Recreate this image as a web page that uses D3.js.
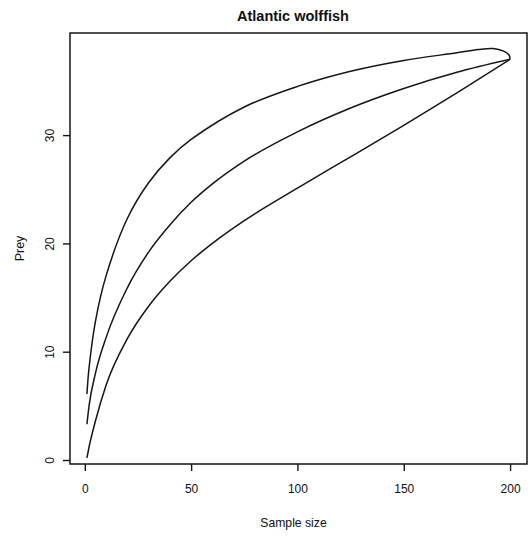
<!DOCTYPE html>
<html>
<head>
<meta charset="utf-8">
<script src="https://cdn.jsdelivr.net/npm/d3@7"></script>
<style>
  html, body { margin: 0; padding: 0; background: #fff; }
  svg { display: block; font-family: "Liberation Sans", Arial, Helvetica, sans-serif; }
</style>
</head>
<body>
<svg id="chart" width="532" height="537"></svg>
<script>
// Rarefaction curve for Atlantic wolffish prey: expected number of prey
// taxa against sample size, with upper and lower confidence bounds.
const sampleSize = [1, 2, 5, 10, 20, 30, 40, 50, 60, 75, 100, 125, 150, 175, 200];
const preyMean   = [3.3, 5.0, 8.0, 11.3, 15.9, 19.2, 21.7, 23.8, 25.5, 27.6, 30.3, 32.5, 34.3, 35.8, 37.0];
const preyLower  = [0.2, 1.2, 3.6, 6.9, 11.2, 14.2, 16.5, 18.4, 20.0, 22.1, 25.1, 28.0, 30.9, 33.9, 37.0];

// The upper bound bends back down to meet the other two at the last sample.
const upperSize  = [1, 2, 5, 10, 20, 30, 40, 50, 75, 100, 125, 150, 175, 185, 192, 197, 199.5, 200];
const preyUpper  = [6.1, 8.5, 12.8, 17.0, 22.3, 25.6, 27.9, 29.6, 32.6, 34.5, 35.9, 36.9, 37.6, 37.9, 38.0, 37.75, 37.4, 37.0];

const xTicks = [0, 50, 100, 150, 200];
const yTicks = [0, 10, 20, 30];

const title = "Atlantic wolffish";
const xLabel = "Sample size";
const yLabel = "Prey";

const svg = d3.select("#chart");
const plot = { left: 70, right: 527, top: 33, bottom: 464 };

const x = d3.scaleLinear().domain([-6.96, 207.96]).range([plot.left, plot.right]);
const y = d3.scaleLinear().domain([-0.37, 39.43]).range([plot.bottom, plot.top]);

const ink = "#161616";
const font = "'Liberation Sans', Arial, sans-serif";

// Curves: the bounds and mean are monotone in sample size; the upper
// bound is drawn with a Catmull-Rom spline so it can round off at the end.
const monotone = d3.line().curve(d3.curveMonotoneX);
const rounded = d3.line().curve(d3.curveCatmullRom.alpha(0.5));
const series = [
  { gen: rounded, pts: d3.zip(upperSize, preyUpper) },
  { gen: monotone, pts: d3.zip(sampleSize, preyMean) },
  { gen: monotone, pts: d3.zip(sampleSize, preyLower) }
];
svg.append("g")
  .selectAll("path")
  .data(series)
  .join("path")
  .attr("d", d => d.gen(d.pts.map(([sx, sy]) => [x(sx), y(sy)])))
  .attr("fill", "none")
  .attr("stroke", ink)
  .attr("stroke-width", 1.5)
  .attr("stroke-linejoin", "round");

// Plot frame
svg.append("rect")
  .attr("x", plot.left).attr("y", plot.top)
  .attr("width", plot.right - plot.left)
  .attr("height", plot.bottom - plot.top)
  .attr("fill", "none")
  .attr("stroke", ink)
  .attr("stroke-width", 1.5);

// Bottom axis
const xAxis = svg.append("g")
  .attr("transform", `translate(0,${plot.bottom})`)
  .call(d3.axisBottom(x).tickValues(xTicks).tickSize(7).tickPadding(13).tickFormat(d3.format("d")));
xAxis.select(".domain").remove();
xAxis.selectAll("line").attr("stroke", ink).attr("stroke-width", 1.4);
xAxis.selectAll("text")
  .attr("fill", "#111")
  .style("font-size", "12px")
  .style("font-family", font);

// Left axis, labels rotated parallel to the axis
const yAxis = svg.append("g")
  .attr("transform", `translate(${plot.left},0)`)
  .call(d3.axisLeft(y).tickValues(yTicks).tickSize(7).tickFormat(d3.format("d")));
yAxis.select(".domain").remove();
yAxis.selectAll("line").attr("stroke", ink).attr("stroke-width", 1.4);
yAxis.selectAll("text")
  .attr("fill", "#111")
  .attr("x", null).attr("dy", null)
  .attr("text-anchor", "middle")
  .attr("dominant-baseline", "central")
  .attr("transform", "translate(-20,0) rotate(-90)")
  .style("font-size", "12px")
  .style("font-family", font);

// Title and axis titles
svg.append("text")
  .attr("x", 293)
  .attr("y", 16)
  .attr("text-anchor", "middle")
  .attr("dominant-baseline", "central")
  .attr("font-weight", "bold")
  .attr("font-size", "14.5px")
  .attr("fill", "#111")
  .text(title);

svg.append("text")
  .attr("x", 293.5)
  .attr("y", 523)
  .attr("text-anchor", "middle")
  .attr("dominant-baseline", "central")
  .attr("font-size", "12.2px")
  .attr("fill", "#111")
  .text(xLabel);

svg.append("text")
  .attr("transform", `translate(20,${(plot.top + plot.bottom) / 2}) rotate(-90)`)
  .attr("text-anchor", "middle")
  .attr("dominant-baseline", "central")
  .attr("font-size", "12.5px")
  .attr("fill", "#111")
  .text(yLabel);
</script>
</body>
</html>
